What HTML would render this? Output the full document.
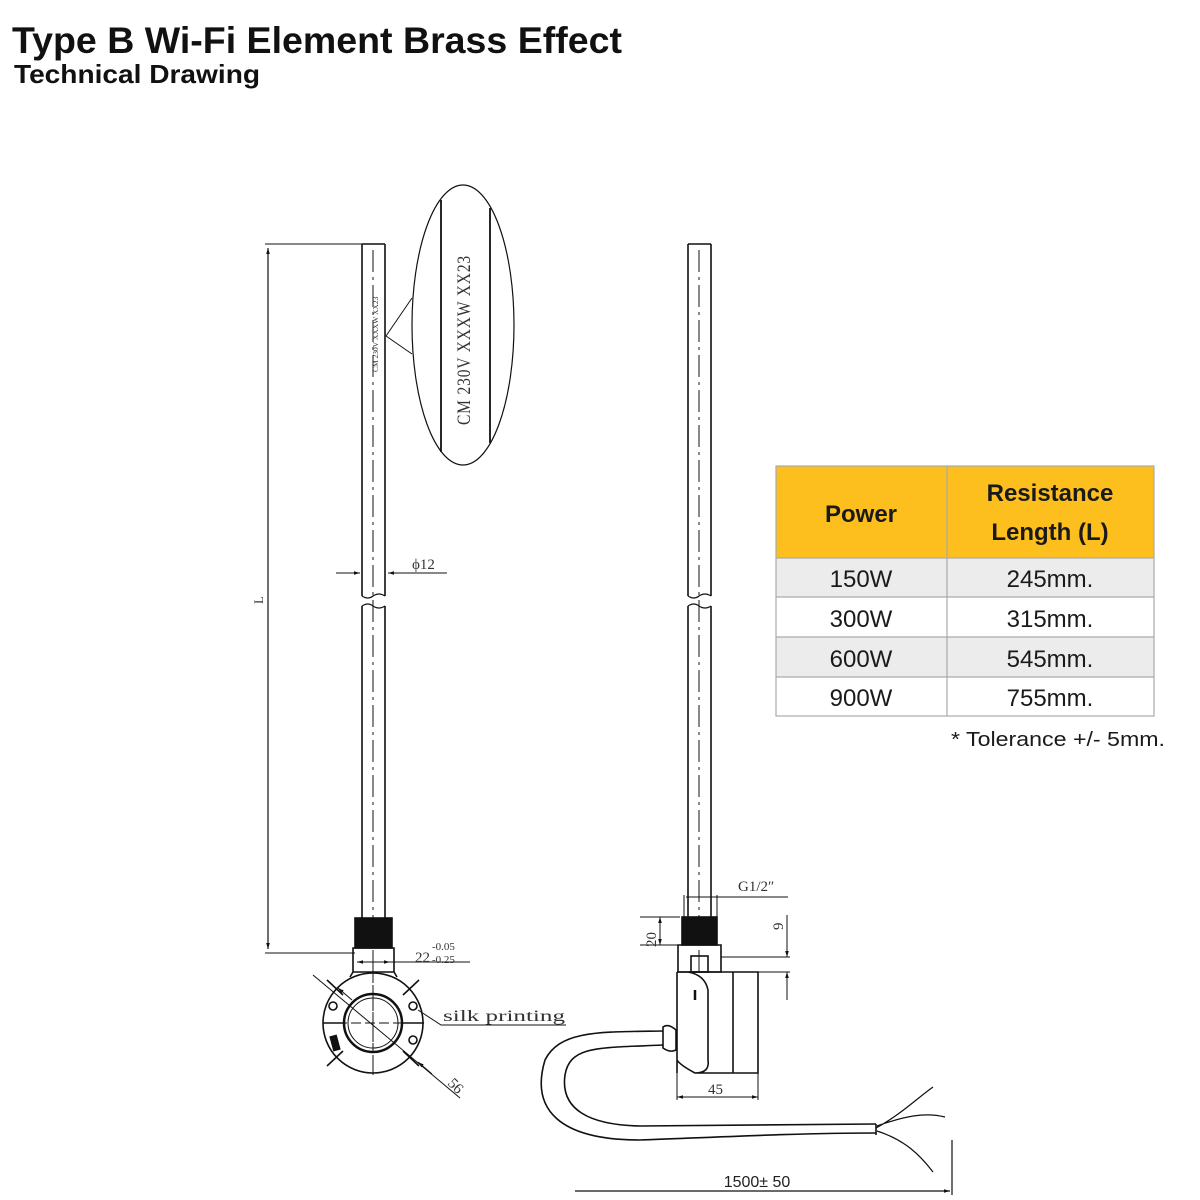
<!DOCTYPE html>
<html><head><meta charset="utf-8"><style>
html,body{margin:0;padding:0;background:#fff;width:1200px;height:1200px;overflow:hidden}
svg{display:block}
.t{font-family:"Liberation Serif",serif;fill:#333}
.s{font-family:"Liberation Sans",sans-serif}
</style></head><body>
<svg width="1200" height="1200" viewBox="0 0 1200 1200" xmlns="http://www.w3.org/2000/svg">
<defs>
<marker id="a" viewBox="0 0 10 10" refX="10" refY="5" markerWidth="10" markerHeight="6" orient="auto-start-reverse" markerUnits="userSpaceOnUse"><path d="M0,2 L10,5 L0,8z" fill="#111"/></marker>
</defs>
<text x="12" y="53" class="s" font-size="37" font-weight="bold" fill="#111" textLength="610" lengthAdjust="spacingAndGlyphs">Type B Wi-Fi Element Brass Effect</text>
<text x="14" y="83" class="s" font-size="26" font-weight="bold" fill="#111" textLength="246" lengthAdjust="spacingAndGlyphs">Technical Drawing</text>

<g stroke="#111" fill="none" stroke-width="1.6">
<path d="M362,244 H385 M362,244 V596 M385,244 V596 M362,606 V918 M385,606 V918"/>
<path d="M362,596 q6,4 11,0 q6,-4 12,0 M362,606 q6,-4 11,0 q6,4 12,0" stroke-width="1.2"/>
<path d="M373,250 V1075" stroke-dasharray="22,5,3,5" stroke-width="1"/>
<path d="M265,244 H362 M265,953 H355" stroke-width="1"/>
<path d="M268,248 V949" stroke-width="1.2" marker-start="url(#a)" marker-end="url(#a)"/>
<text x="263" y="600" class="t" font-size="13" stroke="none" transform="rotate(-90 263 600)" text-anchor="middle">L</text>
<path d="M336,573 H360" stroke-width="1" marker-end="url(#a)"/>
<path d="M447,573 H388" stroke-width="1" marker-end="url(#a)"/>
<ellipse cx="463" cy="325" rx="51" ry="140" stroke-width="1.2"/>
<path d="M441,200 V452 M490,208 V443" stroke-width="1.8"/>
<path d="M386,336 L412,298 M386,336 L412,354" stroke-width="1"/>
<rect x="355" y="918" width="37" height="30" fill="#111"/>
<path d="M353,948 H394 V972 H353 Z M353,972 L350,977 M394,972 L397,977"/>
<path d="M357,962 H390" stroke-width="1" marker-start="url(#a)" marker-end="url(#a)"/>
<path d="M390,962 H470" stroke-width="1"/>
<circle cx="373" cy="1023" r="50"/>
<circle cx="373" cy="1023" r="29" stroke-width="2.5"/>
<circle cx="373" cy="1023" r="25" stroke-width="1"/>
<path d="M343,995 L327,980 M403,995 L419,980 M343,1051 L327,1066 M403,1051 L419,1066 M323,1023 H344 M402,1023 H424" stroke-width="1.6"/>
<path d="M323,1023 H424 M373,973 V1073" stroke-dasharray="10,4" stroke-width="1"/>
<circle cx="333" cy="1006" r="4"/><circle cx="413" cy="1006" r="4"/><circle cx="413" cy="1040" r="4"/>
<rect x="332" y="1036" width="6" height="14" fill="#111" transform="rotate(-15 335 1043)"/>
<path d="M313,975 L460,1098" stroke-width="1"/>
<path d="M352,1000 L338,988" marker-end="url(#a)" stroke-width="1"/>
<path d="M418,1062 L432,1074" marker-start="url(#a)" stroke-width="1"/>
<path d="M418,1010 L441,1025 H566" stroke-width="1"/>

<path d="M688,244 H711 M688,244 V596 M711,244 V596 M688,606 V917 M711,606 V917"/>
<path d="M688,596 q6,4 11,0 q6,-4 12,0 M688,606 q6,-4 11,0 q6,4 12,0" stroke-width="1.2"/>
<path d="M699,250 V972" stroke-dasharray="22,5,3,5" stroke-width="1"/>
<rect x="682" y="917" width="35" height="28" fill="#111"/>
<path d="M678,945 H721 V972 H678 Z"/>
<rect x="691" y="956" width="17" height="16"/>
<path d="M684,895 V917 M717,895 V917 M686,897 H788" stroke-width="1"/>
<path d="M640,917 H680 M640,945 H680" stroke-width="1"/>
<path d="M660,925 V917" marker-end="url(#a)" stroke-width="1"/>
<path d="M660,937 V945" marker-end="url(#a)" stroke-width="1"/>
<path d="M660,917 V945" stroke-width="1"/>
<path d="M721,957 H790 M758,972 H790" stroke-width="1"/>
<path d="M787,915 V957" marker-end="url(#a)" stroke-width="1"/>
<path d="M787,1000 V972" marker-end="url(#a)" stroke-width="1"/>
<path d="M677,972 V1073 M677,972 H688 Q705,975 708,990 V1060 Q710,1073 695,1073 Q680,1065 677,1060 M688,972 H758 V1073 H695"/>
<path d="M733,972 V1073"/>
<path d="M695,990 V1000" stroke-width="2.5"/>
<path d="M677,1073 V1100 M758,1073 V1100" stroke-width="1"/>
<path d="M677,1097 H758" stroke-width="1" marker-start="url(#a)" marker-end="url(#a)"/>
<path d="M663,1027 Q668,1023 676,1030 V1050 Q670,1053 663,1048 Z" />
<path d="M663,1031 C600,1032 560,1030 545,1060 C530,1110 560,1140 640,1140 C720,1137 800,1133 876,1133"/>
<path d="M663,1045 C600,1048 570,1045 565,1075 C560,1110 590,1125 640,1126 C720,1125 800,1124 876,1124"/>
<path d="M876,1124 V1135"/>
<path d="M876,1128 C900,1115 915,1100 933,1087 M877,1126 C905,1116 925,1112 945,1117 M877,1131 C905,1140 920,1155 933,1172" stroke-width="1.2"/>
<path d="M952,1140 V1195" stroke-width="1.2"/>
<path d="M575,1191 H950" stroke-width="1.2" marker-end="url(#a)"/>
</g>

<g class="t">
<text x="412" y="569" font-size="15">ϕ12</text>
<text transform="translate(470 425) rotate(-90)" font-size="19" letter-spacing="1" textLength="170" lengthAdjust="spacingAndGlyphs">CM 230V XXXW XX23</text>
<text transform="translate(378 372) rotate(-90)" font-size="7.5">CM 230V XXXW XX23</text>
<text x="415" y="962" font-size="15">22</text>
<text x="432" y="950" font-size="11">-0.05</text>
<text x="432" y="963" font-size="11">-0.25</text>
<text x="443" y="1021" font-size="16" textLength="122" lengthAdjust="spacingAndGlyphs">silk printing</text>
<text transform="translate(447 1084) rotate(45)" font-size="15">56</text>
<text x="738" y="891" font-size="15">G1/2″</text>
<text transform="translate(656 947) rotate(-90)" font-size="15">20</text>
<text transform="translate(783 930) rotate(-90)" font-size="15">9</text>
<text x="708" y="1094" font-size="15">45</text>
</g>
<text x="757" y="1187" class="s" font-size="16" fill="#222" text-anchor="middle">1500± 50</text>

<g class="s">
<rect x="776" y="466" width="378" height="92" fill="#fcbf1e"/>
<rect x="776" y="558" width="378" height="39" fill="#ececec"/>
<rect x="776" y="637" width="378" height="40" fill="#ececec"/>
<g stroke="#aaa" stroke-width="1.2" fill="none">
<rect x="776" y="466" width="378" height="250"/>
<path d="M947,466 V716 M776,558 H1154 M776,597 H1154 M776,637 H1154 M776,677 H1154"/>
</g>
<g font-size="24" text-anchor="middle" fill="#1a1a1a">
<text x="861" y="522" font-weight="bold">Power</text>
<text x="1050" y="501" font-weight="bold">Resistance</text>
<text x="1050" y="540" font-weight="bold">Length (L)</text>
<text x="861" y="587">150W</text><text x="1050" y="587">245mm.</text>
<text x="861" y="627">300W</text><text x="1050" y="627">315mm.</text>
<text x="861" y="667">600W</text><text x="1050" y="667">545mm.</text>
<text x="861" y="706">900W</text><text x="1050" y="706">755mm.</text>
</g>
<text x="951" y="746" font-size="20" fill="#1a1a1a" textLength="214" lengthAdjust="spacingAndGlyphs">* Tolerance +/- 5mm.</text>
</g>
</svg>
</body></html>
